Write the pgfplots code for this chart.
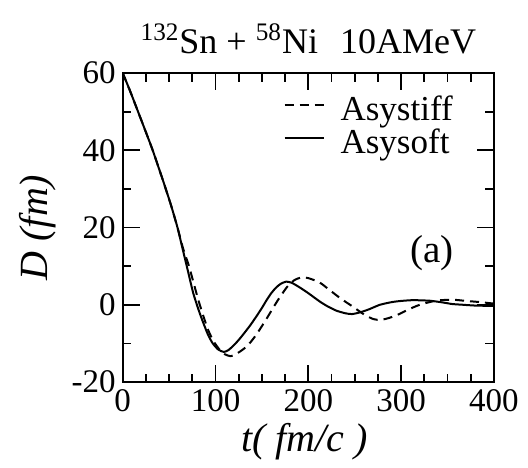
\documentclass[border=0pt]{standalone}
\usepackage{fontspec}
\setmainfont{Liberation Serif}
\usepackage{pgfplots}
\pgfplotsset{compat=1.18}

\begin{document}
\begin{tikzpicture}
\begin{axis}[
  scale only axis,
  width=185.6pt, height=154.5pt,
  xmin=0, xmax=400, ymin=-20, ymax=60,
  xtick={0,100,200,300,400}, ytick={-20,0,20,40,60},
  minor x tick num=3, minor y tick num=1,
  major tick length=8.5pt, minor tick length=4.25pt,
  every tick/.style={line width=0.9pt, black},
  axis line style={line width=1pt},
  /pgf/number format/assume math mode=true,
  tick label style={font=\fontsize{16.5}{19}\selectfont},
  title={\textsuperscript{132}Sn + \textsuperscript{58}Ni\hspace{11pt}10AMeV},
  every axis title/.style={at={(axis description cs:0.5,1)}, anchor=base,
    yshift=10pt, font=\fontsize{18}{21}\selectfont},
  xlabel={\textit{t( fm/c )}},
  ylabel={\textit{D (fm)}},
  every axis x label/.style={at={(axis description cs:0.5,0)}, anchor=base,
    yshift=-34.85pt, xshift=-2pt, font=\fontsize{20}{23}\selectfont},
  every axis y label/.style={at={(axis description cs:0,0.5)}, rotate=90,
    anchor=base, yshift=37.85pt, font=\fontsize{20}{23}\selectfont},
  legend style={draw=none, fill=none, inner sep=0pt, at={(0.89,0.926)},
    anchor=north east, row sep=0pt, column sep=8pt,
    font=\fontsize{17.5}{20}\selectfont,
    nodes={inner sep=0pt, text height=12pt, text depth=4.5pt}},
  legend image code/.code={\draw[#1] (0pt,4pt) -- (19.5pt,4pt);},
  legend cell align=left,
]
% Asystiff
\addplot[black, line width=1pt, dash pattern=on 4.5pt off 3pt, smooth, tension=0.4] coordinates {
(0,60) (8,55.3) (16.5,50) (24,45.3) (32,40.2) (39,35.3) (45,31) (52,25.8) (59,20)
(65,14.6) (71,10.3) (76,6) (81.5,1.2) (87,-3) (92,-6.5) (98,-9.5) (105,-11.8)
(110,-12.8) (116,-13.3) (121,-12.9) (127,-12) (133,-10.9) (138,-9.6)
(144,-7.7) (150,-5.5) (155,-3.6) (162,-0.8) (168,1.5) (177,4.6) (185,6.4)
(193,7.1) (200,6.9) (212,5.8) (223,3.8) (235,1.6) (248,-0.5) (260,-2.5)
(270,-3.7) (278,-3.9) (287,-3.4) (297,-2.5) (308,-1.2) (320,0) (338,1.1) (356,1.3)
(370,1.0) (385,0.7) (400,0.3)
};
\addlegendentry{Asystiff}
% Asysoft
\addplot[black, line width=1pt, smooth, tension=0.4] coordinates {
(0,60) (8,55.3) (16.5,50) (24,45.3) (32,40.2) (39,35.3) (45,31) (52,25.8) (59,20)
(65,14) (70,9) (76,3) (82,-1.5) (87,-4.8) (92,-7.8) (97,-10) (103,-11.6)
(109,-12.2) (114,-11.7) (120,-10.4) (126,-8.8) (132,-7) (138,-5.1)
(144,-3) (150,-0.8) (155,1.2) (160,3) (165,4.4) (170,5.4) (176,6)
(182,5.7) (190,4.6) (200,3) (212,0.9) (220,-0.3) (230,-1.5) (240,-2.2)
(247,-2.4) (255,-2) (265,-1.2) (277,0) (290,0.7) (300,1) (313,1.2)
(331,1.05) (345,0.6) (355,0.2) (367,0) (380,-0.2) (400,-0.3)
};
\addlegendentry{Asysoft}
\node[anchor=center, font=\fontsize{19.5}{22}\selectfont] at (axis cs:333,13.3) {(a)};
\coordinate (bl) at (rel axis cs:0,0);
\coordinate (tr) at (rel axis cs:1,1);
\end{axis}
\pgfresetboundingbox
\path ([xshift=-61.35pt,yshift=-42.5pt]bl) rectangle ([xshift=17pt,yshift=36.5pt]tr);
\end{tikzpicture}
\end{document}
